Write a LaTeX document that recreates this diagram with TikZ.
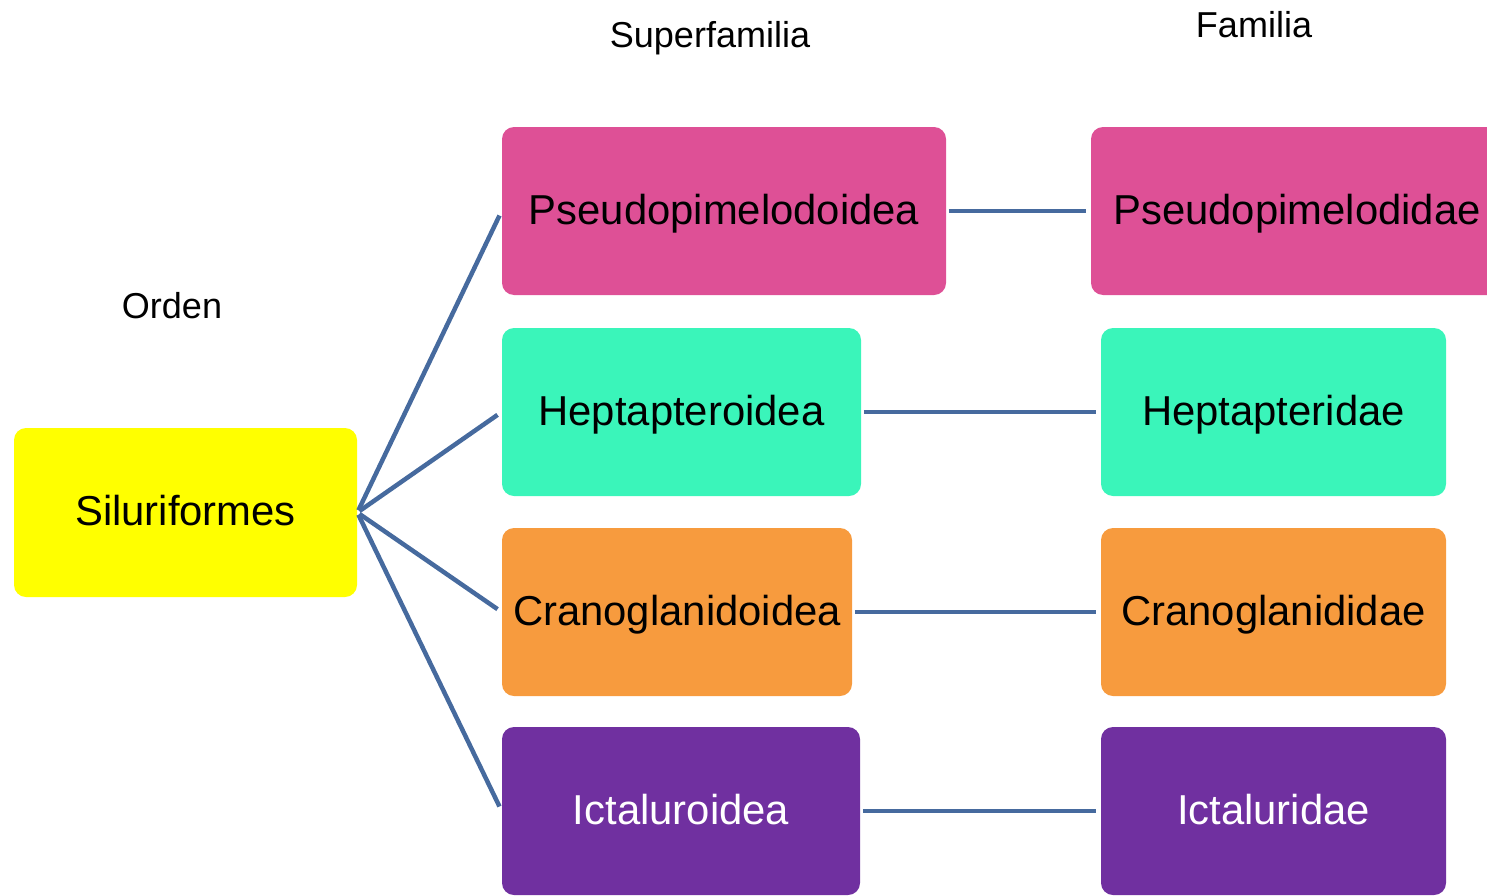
\documentclass[tikz,border=0pt]{standalone}
\usepackage{fontspec}
\setmainfont{Liberation Sans}
\definecolor{yellowbox}{RGB}{255,255,0}
\definecolor{pinkbox}{RGB}{222,80,150}
\definecolor{tealbox}{RGB}{58,245,186}
\definecolor{orangebox}{RGB}{247,155,62}
\definecolor{purplebox}{RGB}{112,48,160}
\definecolor{linkblue}{RGB}{70,106,158}
\tikzset{
    taxon/.style={rectangle, rounded corners=0.24cm, inner sep=0pt, minimum height=3.36cm,
        text height=0.52cm, text depth=0pt, font=\fontsize{23.8}{28}\selectfont},
    rank/.style={anchor=base, font=\fontsize{20.5}{24}\selectfont},
    link/.style={draw=linkblue, line width=0.09cm, shorten <=0.05cm, shorten >=0.1cm}
}
\begin{document}
\begin{tikzpicture}
        \useasboundingbox (0,0) rectangle (29.74,-17.9);

        \node[rank] (orden) at (3.44,-6.36) {Orden};
        \node[rank] (superfam) at (14.2,-0.96) {Superfamilia};
        \node[rank] (fam) at (25.08,-0.76) {Familia};

        \node[taxon, fill=yellowbox, minimum width=6.86cm, minimum height=3.38cm] (silur) at (3.71,-10.25) {Siluriformes};

        \node[taxon, fill=pinkbox, minimum width=8.88cm] (pseudoid) at (14.48,-4.22) {Pseudopimelodoidea};
        \node[taxon, fill=tealbox, minimum width=7.18cm] (heptoid) at (13.63,-8.24) {Heptapteroidea};
        \node[taxon, fill=orangebox, minimum width=7.0cm] (cranoid) at (13.54,-12.24) {Cranoglanidoidea};
        \node[taxon, fill=purplebox, text=white, minimum width=7.16cm] (ictoid) at (13.62,-16.22) {Ictaluroidea};

        \node[taxon, fill=pinkbox, minimum width=8.24cm] (pseudid) at (25.94,-4.22) {Pseudopimelodidae};
        \node[taxon, fill=tealbox, minimum width=6.9cm] (heptid) at (25.47,-8.24) {Heptapteridae};
        \node[taxon, fill=orangebox, minimum width=6.9cm] (cranid) at (25.47,-12.24) {Cranoglanididae};
        \node[taxon, fill=purplebox, text=white, minimum width=6.9cm] (ictid) at (25.47,-16.22) {Ictaluridae};

        \draw[link] (silur.east) -- (pseudoid.west);
        \draw[link] (silur.east) -- (heptoid.west);
        \draw[link] (silur.east) -- (cranoid.west);
        \draw[link] (silur.east) -- (ictoid.west);

        \draw[link] (pseudoid) -- (pseudid);
        \draw[link] (heptoid) -- (heptid);
        \draw[link] (cranoid) -- (cranid);
        \draw[link] (ictoid) -- (ictid);

    \end{tikzpicture}
\end{document}
